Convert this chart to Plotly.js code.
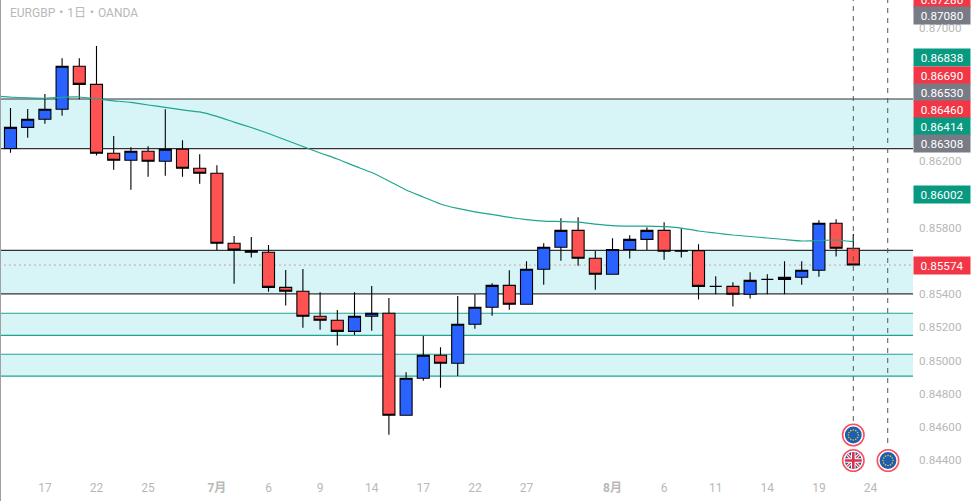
<!DOCTYPE html>
<html>
<head>
<meta charset="utf-8">
<script src="https://cdn.plot.ly/plotly-3.0.1.min.js"></script>
<style>html,body{margin:0;padding:0;background:#fff;overflow:hidden}#c{width:971px;height:501px}</style>
</head>
<body>
<div id="c"></div>
<script>
const opens = [0.86276,0.86403,0.86452,0.86512,0.86771,0.86662,0.86247,0.86205,0.86259,0.86199,0.86271,0.86157,0.86127,0.85705,0.85661,0.85651,0.85440,0.85416,0.85266,0.85242,0.85175,0.85266,0.85284,0.84670,0.84893,0.85031,0.84983,0.85218,0.85320,0.85452,0.85338,0.85549,0.85681,0.85783,0.85615,0.85519,0.85668,0.85729,0.85783,0.85657,0.85661,0.85446,0.85446,0.85398,0.85488,0.85488,0.85501,0.85543,0.85826,0.85675];
const highs = [0.86520,0.86514,0.86604,0.86819,0.86819,0.86893,0.86351,0.86283,0.86289,0.86512,0.86325,0.86241,0.86175,0.85749,0.85743,0.85695,0.85544,0.85551,0.85410,0.85304,0.85410,0.85448,0.85376,0.84929,0.85147,0.85079,0.85388,0.85398,0.85464,0.85543,0.85597,0.85705,0.85856,0.85862,0.85659,0.85735,0.85753,0.85802,0.85832,0.85796,0.85699,0.85507,0.85470,0.85531,0.85519,0.85597,0.85597,0.85844,0.85850,0.85761];
const lows = [0.86251,0.86341,0.86425,0.86473,0.86572,0.86233,0.86148,0.86028,0.86106,0.86112,0.86106,0.86064,0.85665,0.85462,0.85619,0.85414,0.85330,0.85197,0.85185,0.85089,0.85153,0.85179,0.84553,0.84670,0.84878,0.84836,0.84906,0.85191,0.85269,0.85305,0.85338,0.85456,0.85600,0.85570,0.85426,0.85519,0.85613,0.85665,0.85606,0.85619,0.85366,0.85398,0.85324,0.85372,0.85398,0.85398,0.85456,0.85504,0.85625,0.85574];
const closes = [0.86403,0.86452,0.86512,0.86771,0.86662,0.86247,0.86205,0.86259,0.86199,0.86271,0.86157,0.86127,0.85705,0.85665,0.85651,0.85440,0.85416,0.85266,0.85242,0.85175,0.85266,0.85284,0.84670,0.84893,0.85031,0.84983,0.85218,0.85320,0.85452,0.85338,0.85549,0.85681,0.85783,0.85615,0.85519,0.85668,0.85729,0.85783,0.85657,0.85661,0.85446,0.85446,0.85398,0.85482,0.85488,0.85501,0.85543,0.85826,0.85675,0.85574];
const movingAvg = [0.86592,0.86585,0.86581,0.86578,0.86584,0.86586,0.86574,0.86563,0.86553,0.86538,0.86523,0.86508,0.86496,0.86469,0.86435,0.86402,0.86366,0.86327,0.86288,0.86249,0.86213,0.86171,0.86131,0.86080,0.86026,0.85984,0.85942,0.85915,0.85894,0.85879,0.85861,0.85848,0.85839,0.85836,0.85833,0.85821,0.85812,0.85809,0.85808,0.85805,0.85797,0.85779,0.85767,0.85755,0.85746,0.85737,0.85728,0.85719,0.85722,0.85725,0.85715];
const dateTickPos = [2,5,8,12,15,18,21,24,27,30,35,38,41,44,47,50];
const dateTickText = ['17','22','25','<b>7月</b>','6','9','14','17','22','27','<b>8月</b>','6','11','14','19','24'];
const priceTicks = [0.870,0.862,0.858,0.854,0.852,0.850,0.848,0.846,0.844];
const zoneTops = [0.86574,0.85663,0.85284,0.85037];
const zoneBottoms = [0.86275,0.85400,0.85151,0.84905];
const zoneEdgeColors = ['#333333','#333333','#1fa58f','#1fa58f'];
const lastPrice = 0.85574;
const eventIdx = [49,51];
const tagTexts = ['0.87280','0.87080','0.86838','0.86690','0.86530','0.86460','0.86414','0.86308','0.86002','0.85574'];
const tagColors = ['#f23645','#787b86','#089981','#f23645','#787b86','#f23645','#089981','#787b86','#089981','#f23645'];
const tagPixelY = [-1,15.5,57,75.5,92.5,109.5,126.5,143.5,194.5,265];

const W=971,H=501,mT=0,mB=25,mL=0,mR=58;
const plotH=H-mT-mB, plotW=W-mL-mR;
const FONT='Roboto, "Noto Sans CJK JP", sans-serif';
const idx=opens.map((_,i)=>i);

const eu=(()=>{let s='';for(let k=0;k<12;k++){const a=k*Math.PI/6;s+=`<circle cx="${(13+5*Math.cos(a)).toFixed(2)}" cy="${(13+5*Math.sin(a)).toFixed(2)}" r="0.8" fill="#f2c230"/>`;}
 return `<svg xmlns="http://www.w3.org/2000/svg" width="26" height="26"><circle cx="13" cy="13" r="10.7" fill="#fff" stroke="#f7525f" stroke-width="1.6"/><circle cx="13" cy="13" r="8.4" fill="#1c5fb0"/>${s}</svg>`;})();
const uk=`<svg xmlns="http://www.w3.org/2000/svg" width="26" height="26"><defs><clipPath id="k"><circle cx="13" cy="13" r="8.4"/></clipPath></defs><circle cx="13" cy="13" r="10.7" fill="#fff" stroke="#f7525f" stroke-width="1.6"/><g clip-path="url(#k)"><rect width="26" height="26" fill="#2b4a8f"/><path d="M3 3L23 23M23 3L3 23" stroke="#fff" stroke-width="3.2"/><path d="M3 3L23 23M23 3L3 23" stroke="#d8324a" stroke-width="1.2"/><path d="M13 3V23M3 13H23" stroke="#fff" stroke-width="4.6"/><path d="M13 3V23M3 13H23" stroke="#d8324a" stroke-width="2.6"/></g></svg>`;
const uri=s=>'data:image/svg+xml;utf8,'+encodeURIComponent(s);
const icon=(s,cx,cy)=>({source:uri(s),xref:'paper',yref:'paper',x:(cx-mL)/plotW,y:1-(cy-mT)/plotH,sizex:26/plotW,sizey:26/plotH,xanchor:'center',yanchor:'middle',sizing:'contain',layer:'above'});

const shapes=[];
zoneTops.forEach((t,i)=>{
  shapes.push({type:'rect',xref:'x',yref:'y',x0:-5,x1:60,y0:zoneBottoms[i],y1:t,fillcolor:'#d7f5f7',line:{width:0},layer:'below'});
  shapes.push({type:'line',xref:'x',yref:'y',x0:-5,x1:60,y0:t,y1:t,line:{color:zoneEdgeColors[i],width:1.2},layer:'below'});
  shapes.push({type:'line',xref:'x',yref:'y',x0:-5,x1:60,y0:zoneBottoms[i],y1:zoneBottoms[i],line:{color:zoneEdgeColors[i],width:1.2},layer:'below'});
});
shapes.push({type:'line',xref:'x',yref:'y',x0:-5,x1:60,y0:lastPrice,y1:lastPrice,line:{color:'#f23645',width:1,dash:'1px 4px'},layer:'below'});
shapes.push({type:'line',xref:'x',yref:'paper',x0:eventIdx[0],x1:eventIdx[0],y0:1-421/plotH,y1:1,line:{color:'#555',width:1,dash:'5px 5px'},layer:'above'});
shapes.push({type:'line',xref:'x',yref:'paper',x0:eventIdx[1],x1:eventIdx[1],y0:1-443/plotH,y1:1,line:{color:'#555',width:1,dash:'5px 5px'},layer:'above'});
shapes.push({type:'line',xref:'paper',yref:'paper',x0:0,x1:0,y0:-1,y1:1,line:{color:'#a0a0a0',width:2},layer:'above'});

const annotations=tagTexts.map((t,i)=>({
  xref:'paper',yref:'paper',x:1,y:1-tagPixelY[i]/plotH,xanchor:'left',yanchor:'middle',showarrow:false,
  text:t,width:56,height:17,align:'center',valign:'middle',bgcolor:tagColors[i],borderpad:0,
  font:{family:FONT,size:11.7,color:'#ffffff'},captureevents:false
}));
annotations.push({xref:'paper',yref:'paper',x:8/plotW,y:1-13/plotH,xanchor:'left',yanchor:'middle',showarrow:false,
  text:'EURGBP・1日・OANDA',font:{family:FONT,size:12,color:'#b8b8b8'}});

const data=[
 {type:'candlestick',x:idx,open:opens,high:highs,low:lows,close:closes,whiskerwidth:0,
  increasing:{line:{color:'#000',width:1.1},fillcolor:'#2962ff'},
  decreasing:{line:{color:'#000',width:1.1},fillcolor:'#ff5252'},hoverinfo:'skip',showlegend:false},
 {type:'scatter',mode:'lines',x:[-1].concat(idx),y:movingAvg,line:{color:'#1fa58f',width:1.2,shape:'spline',smoothing:0.4},hoverinfo:'skip',showlegend:false}
];
const layout={
 width:W,height:H,margin:{l:mL,r:mR,t:mT,b:mB,pad:0},paper_bgcolor:'#fff',plot_bgcolor:'#fff',showlegend:false,boxgap:0.3,boxgroupgap:0,
 xaxis:{type:'linear',range:[-0.61,52.47],fixedrange:true,rangeslider:{visible:false},showgrid:false,zeroline:false,showline:false,ticks:'',ticklabelstandoff:3,
   tickmode:'array',tickvals:dateTickPos,ticktext:dateTickText,tickfont:{family:FONT,size:12,color:'#b8b8b8'}},
 yaxis:{side:'right',range:[0.84304,0.8717],fixedrange:true,showgrid:false,zeroline:false,showline:false,ticks:'',ticklabelstandoff:5,
   tickmode:'array',tickvals:priceTicks,ticktext:priceTicks.map(v=>v.toFixed(5)),tickfont:{family:FONT,size:11.7,color:'#b8b8b8'}},
 shapes,annotations,
 images:[icon(eu,853.3,435),icon(uk,853.3,460.5),icon(eu,888,460.5)]
};
Plotly.newPlot('c',data,layout,{staticPlot:true,displayModeBar:false});
</script>
</body>
</html>
